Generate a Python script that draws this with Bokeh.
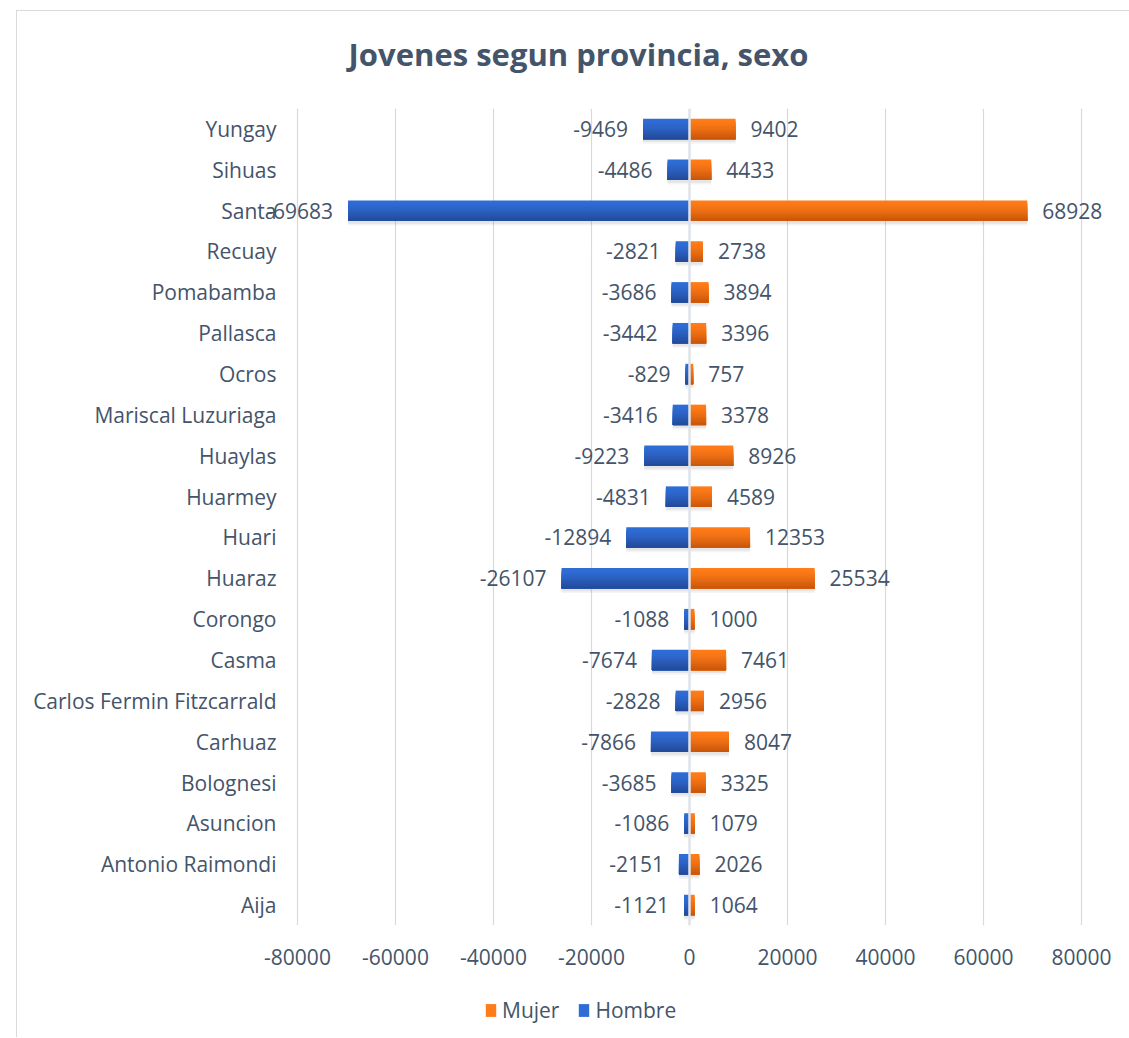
from bokeh.plotting import figure
from bokeh.models import (FactorRange, Range1d, FixedTicker, ColumnDataSource, LabelSet,
                          Label, Legend, LegendItem, Span)
from bokeh.layouts import column
from bokeh.transform import dodge
from bokeh.core.properties import value
from bokeh.embed import file_html
from bokeh.resources import INLINE

# ---- data (top to bottom as shown) ----
provincias = ["Yungay", "Sihuas", "Santa", "Recuay", "Pomabamba", "Pallasca", "Ocros",
              "Mariscal Luzuriaga", "Huaylas", "Huarmey", "Huari", "Huaraz", "Corongo",
              "Casma", "Carlos Fermin Fitzcarrald", "Carhuaz", "Bolognesi", "Asuncion",
              "Antonio Raimondi", "Aija"]
hombre = [-9469, -4486, -69683, -2821, -3686, -3442, -829, -3416, -9223, -4831, -12894,
          -26107, -1088, -7674, -2828, -7866, -3685, -1086, -2151, -1121]
mujer = [9402, 4433, 68928, 2738, 3894, 3396, 757, 3378, 8926, 4589, 12353, 25534, 1000,
         7461, 2956, 8047, 3325, 1079, 2026, 1064]
x_ticks = [-80000, -60000, -40000, -20000, 0, 20000, 40000, 60000, 80000]
x_tick_labels = ["-80000", "-60000", "-40000", "-20000", "0", "20000", "40000", "60000", "80000"]
titulo = "Jovenes segun provincia, sexo"
series = ["Mujer", "Hombre"]

FONT = "Open Sans"
TXT = "#44546A"
BORDER = "1px solid #D9D9D9"
ORANGE_TOP, ORANGE_BOT = "#FF7C18", "#CB570A"
BLUE_TOP, BLUE_BOT = "#2F6DD6", "#234B9B"

src = ColumnDataSource(dict(
    prov=provincias, hombre=hombre, mujer=mujer,
    hombre_lbl=[str(v) for v in hombre], mujer_lbl=[str(v) for v in mujer]))

# layout: chart box starts at page (16, 10); plot frame spans the full width,
# -80000 at page x=296, 80000 at page x=1080; frame from page y=109 to 926
W = 1113
H_HDR = 98
H_MAIN = 877
H_LEG = 52
px_per_unit = (1080 - 296) / (x_ticks[-1] - x_ticks[0])
x_start = x_ticks[0] - (296 - 16) / px_per_unit
x_end = x_ticks[-1] + (16 + W - 1080) / px_per_unit


def strip(height, margin, styles):
    f = figure(width=W, height=height, x_range=Range1d(0, 1), y_range=Range1d(0, 1),
               output_backend="svg", toolbar_location=None, title=None,
               min_border_left=0, min_border_right=0, min_border_top=0, min_border_bottom=0,
               margin=margin, styles=styles)
    f.axis.visible = False
    f.grid.visible = False
    f.outline_line_color = None
    return f


# ---- header with title ----
hdr = strip(H_HDR, (10, 0, 0, 16), {"border-top": BORDER, "border-left": BORDER})
hdr.add_layout(Label(x=561, y=56, x_units="screen", y_units="screen", text=titulo,
                     text_align="center", text_baseline="middle", text_font=FONT,
                     text_font_style="bold", text_font_size="31px", text_color=TXT))

# ---- main chart ----
p = figure(width=W, height=H_MAIN,
           y_range=FactorRange(factors=provincias[::-1]),
           x_range=Range1d(x_start, x_end),
           output_backend="svg", toolbar_location=None, title=None,
           min_border_left=0, min_border_right=0, min_border_top=0, min_border_bottom=60,
           margin=(0, 0, 0, 16), styles={"border-left": BORDER})
p.outline_line_color = None
p.background_fill_color = "white"
p.border_fill_color = "white"


def lerp(c1, c2, t):
    a = [int(c1[i:i + 2], 16) for i in (1, 3, 5)]
    b = [int(c2[i:i + 2], 16) for i in (1, 3, 5)]
    return "#%02x%02x%02x" % tuple(round(a[k] + (b[k] - a[k]) * t) for k in range(3))


BAR_H = 0.5
# soft shadow
for off, alpha in ((-0.07, 0.10), (-0.11, 0.07)):
    p.hbar(y=dodge("prov", off, range=p.y_range), left=0, right="mujer", height=BAR_H,
           source=src, fill_color="#606060", fill_alpha=alpha, line_color=None)
    p.hbar(y=dodge("prov", off, range=p.y_range), left=0, right="hombre", height=BAR_H,
           source=src, fill_color="#606060", fill_alpha=alpha, line_color=None)

# bars with a vertical gradient: nested layers, each reaching the bar's bottom edge
n = 10
sh = BAR_H / n
for i in range(n):
    t = (i / (n - 1)) ** 1.4
    hh = BAR_H - i * sh
    off = -BAR_H / 2 + hh / 2
    p.hbar(y=dodge("prov", off, range=p.y_range), left=0, right="mujer", height=hh,
           source=src, fill_color=lerp(ORANGE_TOP, ORANGE_BOT, t), line_color=None)
    p.hbar(y=dodge("prov", off, range=p.y_range), left=0, right="hombre", height=hh,
           source=src, fill_color=lerp(BLUE_TOP, BLUE_BOT, t), line_color=None)

p.add_layout(Span(location=0, dimension="height", line_color="#DFE3EA", line_width=2.5,
                  level="overlay"))

# category labels (to the left of the plot area)
p.add_layout(LabelSet(x=x_ticks[0], y="prov", text="prov", source=src, x_offset=-21,
                      text_align="right", text_baseline="middle", text_font=value(FONT),
                      text_font_size="21px", text_color=TXT))

# data labels
p.add_layout(LabelSet(x="mujer", y="prov", text="mujer_lbl", source=src, x_offset=15,
                      text_align="left", text_baseline="middle", text_font=value(FONT),
                      text_font_size="21px", text_color=TXT))
p.add_layout(LabelSet(x="hombre", y="prov", text="hombre_lbl", source=src, x_offset=-15,
                      text_align="right", text_baseline="middle", text_font=value(FONT),
                      text_font_size="21px", text_color=TXT))

# axes
p.yaxis.visible = False
p.xaxis.ticker = FixedTicker(ticks=x_ticks)
p.xaxis.major_label_overrides = {t: l for t, l in zip(x_ticks, x_tick_labels)}
ax = p.xaxis[0]
ax.axis_line_color = None
ax.major_tick_line_color = None
ax.minor_tick_line_color = None
ax.major_label_text_font = FONT
ax.major_label_text_font_size = "21px"
ax.major_label_text_color = TXT
ax.major_label_standoff = 17

p.xgrid.grid_line_color = "#D9D9D9"
p.xgrid.grid_line_width = 1.2
p.ygrid.grid_line_color = None

# ---- legend strip below the chart (swatch carriers sit outside its view) ----
leg = strip(H_LEG, (0, 0, 0, 16), {"border-left": BORDER})
lm = leg.hbar(y=-5, left=0, right=1, height=0.5, source=src,
              fill_color=ORANGE_TOP, line_color=None)
lh = leg.hbar(y=-5, left=0, right=1, height=0.5, source=src,
              fill_color=BLUE_TOP, line_color=None)
legend = Legend(items=[LegendItem(label=series[0], renderers=[lm]),
                       LegendItem(label=series[1], renderers=[lh])],
                orientation="horizontal", location=(467, 13),
                label_text_font=FONT, label_text_font_size="21px", label_text_color=TXT,
                glyph_width=13, glyph_height=16, label_standoff=5, spacing=18,
                padding=0, margin=0, border_line_color=None, background_fill_alpha=0)
leg.add_layout(legend, "center")

layout = column(hdr, p, leg, spacing=0)
open("out.html", "w").write(file_html(layout, INLINE))
